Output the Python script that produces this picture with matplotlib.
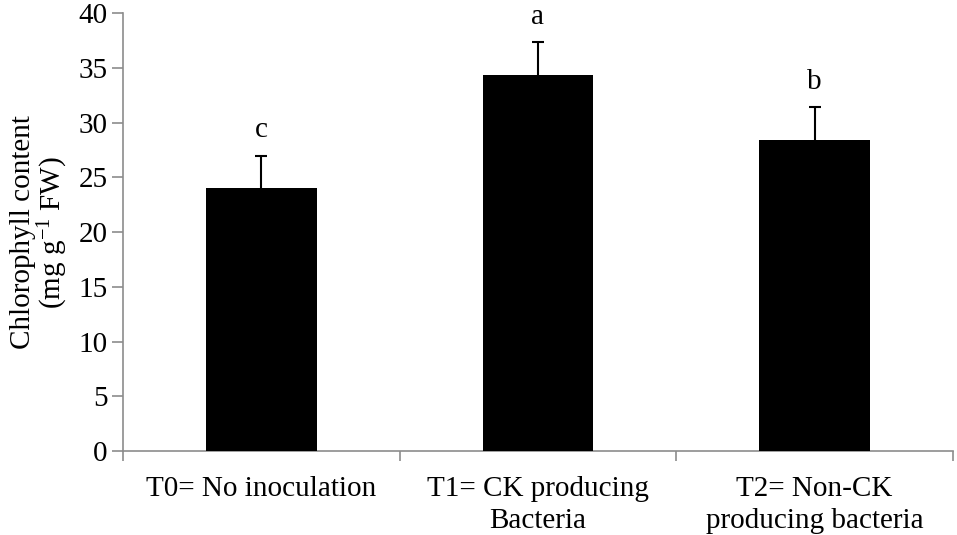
import matplotlib
matplotlib.use("Agg")
import matplotlib.pyplot as plt

categories = ["T0= No inoculation",
              "T1= CK producing\nBacteria",
              "T2= Non-CK\nproducing bacteria"]
chlorophyll = [24.0, 34.4, 28.4]
errors = [3.0, 3.0, 3.0]
letters = ["c", "a", "b"]

plt.rcParams["font.family"] = "Liberation Serif"
plt.rcParams["mathtext.fontset"] = "custom"
plt.rcParams["mathtext.rm"] = "Liberation Serif"
plt.rcParams["mathtext.it"] = "Liberation Serif:italic"

grey = "#8c8c8c"
fs = 21

fig = plt.figure(figsize=(9.57, 5.35), dpi=100)
ax = fig.add_axes([0.1285, 0.157, 0.8673, 0.818])

x = list(range(len(categories)))
ax.bar(x, chlorophyll, width=0.4, color="black", zorder=3)
eb = ax.errorbar(x, chlorophyll, yerr=[[0] * len(errors), errors], fmt="none",
                 ecolor="black", elinewidth=1.5, capsize=4.5, capthick=1.5, zorder=2)
# hide the cap on the zero-length lower side
eb[1][0].set_visible(False)

for xi, v, e, lab in zip(x, chlorophyll, errors, letters):
    ax.text(xi, v + e + 2.3, lab, ha="center", va="center", fontsize=fs)

ax.set_xlim(-0.5, 2.5)
ax.set_ylim(0, 40)
ax.set_yticks(range(0, 41, 5))
ax.set_xticks(x)
ax.set_xticklabels(categories, fontsize=fs, linespacing=1.3)
ax.set_xticks([-0.5, 0.5, 1.5, 2.5], minor=True)
ax.tick_params(axis="x", which="major", length=0, pad=18)
ax.tick_params(axis="x", which="minor", length=7, color=grey, width=1.2, direction="out")
ax.tick_params(axis="y", length=8, color=grey, width=1.2, labelsize=fs, pad=3)

for side in ["top", "right"]:
    ax.spines[side].set_visible(False)
for side in ["left", "bottom"]:
    ax.spines[side].set_color(grey)
    ax.spines[side].set_linewidth(1.2)

ax.set_ylabel("Chlorophyll content\n(mg g$^{-1}$ FW)", fontsize=fs, linespacing=1.0, labelpad=6)

fig.savefig("out.png", dpi=100)
